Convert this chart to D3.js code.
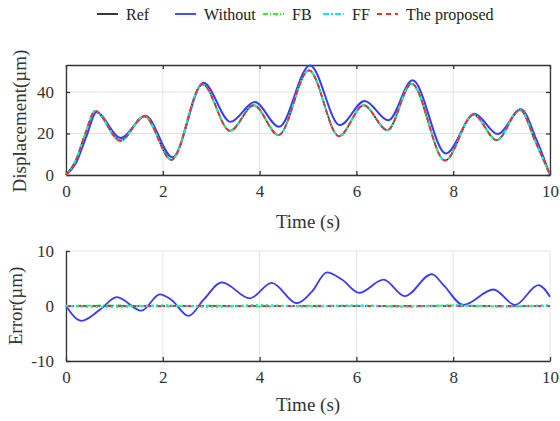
<!DOCTYPE html>
<html>
<head>
<meta charset="utf-8">
<script src="https://cdn.jsdelivr.net/npm/d3@7"></script>
<style>
  body { margin: 0; background: #fff; }
  svg { display: block; font-family: "Liberation Serif", "Times New Roman", serif; }
</style>
</head>
<body>
<svg id="chart"></svg>
<script>
// displacement data (t in s, value in µm)
const refT    = [0, 0.2, 0.4, 0.6, 1.12, 1.62, 2.18, 2.82, 3.39, 3.88, 4.39, 5.02, 5.64, 6.15, 6.64, 7.14, 7.83, 8.42, 8.9, 9.38, 9.7, 10];
const refVal  = [0, 7, 20, 30.9, 16.5, 28.3, 7.3, 43.7, 21.3, 33.6, 19.2, 50.4, 18.7, 33.6, 21.6, 44, 7, 29.1, 16.8, 31.5, 16, 0];
const woT     = [0, 0.2, 0.42, 0.63, 1.13, 1.64, 2.2, 2.84, 3.4, 3.9, 4.4, 5.04, 5.66, 6.17, 6.66, 7.16, 7.85, 8.44, 8.92, 9.4, 9.72, 10];
const woVal   = [0, 5.5, 18.5, 30.2, 17.8, 28.6, 8.5, 44.4, 25.6, 35.2, 23.2, 52.8, 24, 35.7, 26.4, 45.6, 10.4, 29.5, 19.7, 31.7, 17, 0];

// error data
const woErrT   = [0, 0.32, 0.7, 1.05, 1.56, 1.94, 2.18, 2.53, 2.84, 3.22, 3.8, 4.25, 4.77, 5.08, 5.39, 5.7, 6.06, 6.56, 7.0, 7.56, 7.8, 8.21, 8.83, 9.28, 9.76, 10];
const woErrVal = [0, -2.7, -0.7, 1.6, -0.85, 2.1, 1.1, -1.8, 1.1, 4.3, 1.4, 4.2, 0.5, 2.6, 6.1, 4.8, 2.4, 4.8, 1.8, 5.8, 3.8, 0.2, 3.0, 0.2, 3.8, 1.7];
const errT        = [0, 1, 2, 3, 4, 5, 6, 7, 8, 9, 10];
const fbErr       = [0, 0.1, -0.05, 0.05, -0.1, 0.05, 0, -0.05, 0.1, -0.05, 0];
const ffErr       = [0, -0.2, 0.1, -0.15, 0.15, -0.1, 0.1, -0.15, 0.1, -0.1, 0.15];
const proposedErr = [0, 0, 0, 0, 0, 0, 0, 0, 0, 0, 0];

const xTicks = [0, 2, 4, 6, 8, 10];
const dispTicks = [0, 20, 40];
const errTicks = [-10, 0, 10];

const legendItems = [
  { name: 'Ref', color: '#222', dash: null },
  { name: 'Without', color: '#3a3aff', dash: null },
  { name: 'FB', color: '#33ee33', dash: '5,2,1,2' },
  { name: 'FF', color: '#00f0f0', dash: '6,2,2,2' },
  { name: 'The proposed', color: '#ff2a2a', dash: '5,4' }
];
const legendX = [97, 175, 263, 323, 377];

const width = 560, height = 421;
const serif = '"Liberation Serif", "Times New Roman", serif';
const svg = d3.select('#chart').attr('width', width).attr('height', height);

const axisColor = '#333';
const gridColor = '#e3e3e3';

const xScale = d3.scaleLinear().domain([0, 10]).range([66, 550]);
const yTop = d3.scaleLinear().domain([0, 53]).range([175, 65]);
const yBot = d3.scaleLinear().domain([-10, 10]).range([361, 251]);

const lineOf = (xs, ys, y) => d3.line()
  .x((d, i) => xScale(xs[i]))
  .y((d, i) => y(ys[i]))
  .curve(d3.curveMonotoneX)(ys);

const drawPanel = (y, yTicks, boxed) => {
  const g = svg.append('g');
  const [y0, y1] = y.range();
  // grid
  g.selectAll('.gx').data(xTicks).enter().append('line')
    .attr('x1', d => xScale(d)).attr('x2', d => xScale(d))
    .attr('y1', y1).attr('y2', y0)
    .style('stroke', gridColor).style('stroke-width', 1);
  g.selectAll('.gy').data(yTicks).enter().append('line')
    .attr('x1', 66).attr('x2', 550)
    .attr('y1', d => y(d)).attr('y2', d => y(d))
    .style('stroke', gridColor).style('stroke-width', 1);

  const fmt = d => String(d);
  const xAxis = d3.axisBottom(xScale).tickValues(xTicks).tickSizeInner(-4).tickSizeOuter(0).tickPadding(10).tickFormat(fmt);
  const yAxis = d3.axisLeft(y).tickValues(yTicks).tickSizeInner(-4).tickSizeOuter(0).tickPadding(12).tickFormat(fmt);

  g.append('g').attr('transform', `translate(0,${y0})`).call(xAxis);
  g.append('g').attr('transform', 'translate(66,0)').call(yAxis);

  if (boxed) {
    g.append('g').attr('transform', `translate(0,${y1})`)
      .call(d3.axisTop(xScale).tickValues(xTicks).tickSizeInner(-4).tickSizeOuter(0).tickFormat(''));
    g.append('g').attr('transform', 'translate(550,0)')
      .call(d3.axisRight(y).tickValues(yTicks).tickSizeInner(-4).tickSizeOuter(0).tickFormat(''));
  }
  g.selectAll('g').attr('font-family', serif).attr('font-size', 17);
  g.selectAll('.domain, .tick line').style('stroke', axisColor).style('stroke-width', 1.3);
  g.selectAll('.tick text').style('fill', '#333');
  return g;
};

const gTop = drawPanel(yTop, dispTicks, true);
const gBot = drawPanel(yBot, errTicks, false);

// top panel curves
const topSeries = [
  { xs: refT, ys: refVal, item: legendItems[0], w: 1.6 },
  { xs: woT, ys: woVal, item: legendItems[1], w: 2 },
  { xs: refT, ys: refVal, item: legendItems[2], w: 1.8 },
  { xs: refT, ys: refVal, item: legendItems[3], w: 1.8 },
  { xs: refT, ys: refVal, item: legendItems[4], w: 1.8 }
];
topSeries.forEach(s => {
  gTop.append('path')
    .attr('d', lineOf(s.xs, s.ys, yTop))
    .style('fill', 'none').style('stroke', s.item.color)
    .style('stroke-width', s.w)
    .style('stroke-dasharray', s.item.dash);
});

// bottom panel curves
const botSeries = [
  { xs: woErrT, ys: woErrVal, item: legendItems[1], w: 1.8, dash: null },
  { xs: errT, ys: fbErr, item: legendItems[2], w: 1.8, dash: legendItems[2].dash },
  { xs: errT, ys: proposedErr, item: legendItems[4], w: 2, dash: '8,5' },
  { xs: errT, ys: ffErr, item: legendItems[3], w: 2.4, dash: '2,3' }
];
botSeries.forEach(s => {
  gBot.append('path')
    .attr('d', lineOf(s.xs, s.ys, yBot))
    .style('fill', 'none').style('stroke', s.item.color)
    .style('stroke-width', s.w)
    .style('stroke-dasharray', s.dash);
});

// axis labels
const label = (text, x, y, rot) => svg.append('text')
  .attr('transform', `translate(${x},${y})` + (rot ? ` rotate(${rot})` : ''))
  .attr('text-anchor', 'middle').attr('dominant-baseline', 'central')
  .style('font-size', '19px').style('fill', '#333').text(text);

label('Time (s)', 308, 221);
label('Time (s)', 308, 404);
label('Displacement(µm)', 19, 121, -90);
label('Error(µm)', 15, 306, -90);

// legend
const leg = svg.append('g');
legendItems.forEach((d, i) => {
  leg.append('line')
    .attr('x1', legendX[i]).attr('x2', legendX[i] + 21)
    .attr('y1', 14).attr('y2', 14)
    .style('stroke', d.color).style('stroke-width', 1.8)
    .style('stroke-dasharray', d.dash);
  leg.append('text')
    .attr('x', legendX[i] + 29).attr('y', 14)
    .attr('dominant-baseline', 'central')
    .style('font-size', '16px').style('fill', '#222')
    .text(d.name);
});
</script>
</body>
</html>
